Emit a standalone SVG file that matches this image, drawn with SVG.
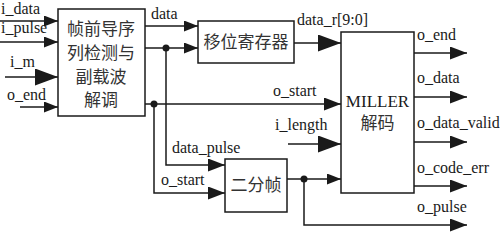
<svg xmlns="http://www.w3.org/2000/svg" width="500" height="232" viewBox="0 0 500 232">
<style>
.box{fill:#fff;stroke:#1a1a1a;stroke-width:1.5}
.ln{fill:none;stroke:#1a1a1a;stroke-width:1.5}
.lbl{font-family:'Liberation Serif','Times New Roman','DejaVu Serif',serif;font-size:16px;fill:#1a1a1a}
.cn{font-family:'Noto Sans CJK SC',sans-serif;font-size:17px;fill:#333;text-anchor:middle}
.dot{fill:#1a1a1a}
</style>
<defs>
<marker id="aS" markerUnits="userSpaceOnUse" markerWidth="14" markerHeight="11" refX="14" refY="5.5" orient="auto"><path d="M0,0 L14,5.5 L0,11 Z" fill="#1a1a1a"/></marker>
<marker id="aM" markerUnits="userSpaceOnUse" markerWidth="17" markerHeight="13" refX="17" refY="6.5" orient="auto"><path d="M0,0 L17,6.5 L0,13 Z" fill="#1a1a1a"/></marker>
<marker id="aL" markerUnits="userSpaceOnUse" markerWidth="23" markerHeight="17" refX="23" refY="8.5" orient="auto"><path d="M0,0 L23,8.5 L0,17 Z" fill="#1a1a1a"/></marker>
</defs>
<g id="connectors">
<line class="ln" x1="0" y1="21" x2="58" y2="21" marker-end="url(#aS)"/>
<line class="ln" x1="0" y1="42" x2="58" y2="42" marker-end="url(#aS)"/>
<line class="ln" x1="5" y1="77" x2="58" y2="77" marker-end="url(#aL)"/>
<line class="ln" x1="20" y1="107" x2="58" y2="107" marker-end="url(#aS)"/>
<line class="ln" x1="145" y1="26" x2="198" y2="26" marker-end="url(#aS)"/>
<line class="ln" x1="145" y1="48" x2="198" y2="48" marker-end="url(#aS)"/>
<line class="ln" x1="145" y1="104" x2="341" y2="104" marker-end="url(#aM)"/>
<polyline class="ln" points="166,48 166,165 225,165" marker-end="url(#aM)"/>
<polyline class="ln" points="154,104 154,193 225,193" marker-end="url(#aM)"/>
<line class="ln" x1="294" y1="43" x2="341" y2="43" marker-end="url(#aL)"/>
<line class="ln" x1="288" y1="144" x2="341" y2="144" marker-end="url(#aL)"/>
<line class="ln" x1="287" y1="179" x2="341" y2="179" marker-end="url(#aS)"/>
<polyline class="ln" points="304,179 304,225 467,225" marker-end="url(#aM)"/>
<line class="ln" x1="414" y1="53" x2="467" y2="53" marker-end="url(#aM)"/>
<line class="ln" x1="414" y1="97" x2="467" y2="97" marker-end="url(#aM)"/>
<line class="ln" x1="414" y1="142" x2="467" y2="142" marker-end="url(#aM)"/>
<line class="ln" x1="414" y1="186" x2="467" y2="186" marker-end="url(#aM)"/>
<circle class="dot" cx="166" cy="48" r="3.5"/>
<circle class="dot" cx="154" cy="104" r="3.5"/>
<circle class="dot" cx="304" cy="179" r="3.5"/>
<text class="lbl" x="1" y="14">i_data</text>
<text class="lbl" x="1" y="33">i_pulse</text>
<text class="lbl" x="10" y="67">i_m</text>
<text class="lbl" x="7" y="100">o_end</text>
<text class="lbl" x="151" y="19">data</text>
<text class="lbl" x="297" y="25">data_r[9:0]</text>
<text class="lbl" x="273" y="96">o_start</text>
<text class="lbl" x="275" y="130">i_length</text>
<text class="lbl" x="172" y="153">data_pulse</text>
<text class="lbl" x="161" y="185">o_start</text>
<text class="lbl" x="417" y="40">o_end</text>
<text class="lbl" x="417" y="83">o_data</text>
<text class="lbl" x="417" y="128">o_data_valid</text>
<text class="lbl" x="417" y="173">o_code_err</text>
<text class="lbl" x="417" y="212">o_pulse</text>
</g>
<g id="preamble">
<rect class="box" x="58" y="9" width="87" height="107"/>
<text class="cn" x="101" y="35">帧前导序</text>
<text class="cn" x="101" y="59">列检测与</text>
<text class="cn" x="101" y="83">副载波</text>
<text class="cn" x="101" y="106">解调</text>
</g>
<g id="shiftreg">
<rect class="box" x="198" y="21" width="96" height="42"/>
<text class="cn" x="246" y="48">移位寄存器</text>
</g>
<g id="miller">
<rect class="box" x="341" y="32" width="73" height="161"/>
<text class="lbl" x="377.5" y="107" text-anchor="middle" style="font-size:17px">MILLER</text>
<text class="cn" x="377.5" y="129">解码</text>
</g>
<g id="halfframe">
<rect class="box" x="225" y="159" width="62" height="53"/>
<text class="cn" x="256" y="191">二分帧</text>
</g>
</svg>
